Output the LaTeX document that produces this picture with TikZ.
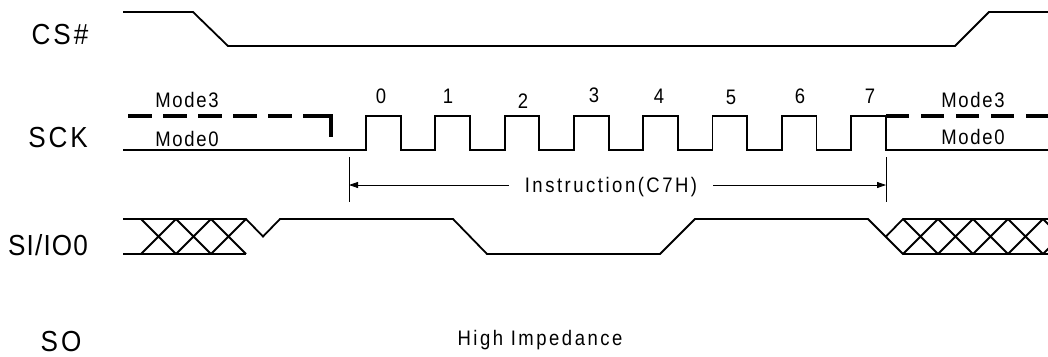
\documentclass[tikz,border=0pt]{standalone}
\usepackage{fontspec}
\setmainfont{Liberation Sans}
\newfontfamily\pinfont[LetterSpace=10, FakeStretch=0.9]{Liberation Sans}
\newfontfamily\pinnarrow[LetterSpace=4, FakeStretch=0.9]{Liberation Sans}
\newfontfamily\lblfont[LetterSpace=8, FakeStretch=0.88]{Liberation Sans}
\newfontfamily\lblwide[LetterSpace=12, FakeStretch=0.88]{Liberation Sans}
\usetikzlibrary{arrows.meta}

\begin{document}
\begin{tikzpicture}[x=1pt, y=-1pt, >={Triangle[length=9pt, width=6pt]},
	sig/.style={line width=1.8pt, line join=miter},
	modeln/.style={line width=3.4pt, dash pattern=on 24pt off 11pt},
	dimln/.style={line width=0.8pt},
	pin/.style={font=\pinfont\fontsize{29}{31}\selectfont, inner sep=0pt, text height=21pt, text depth=0pt},
	lbl/.style={font=\lblfont\fontsize{21}{23}\selectfont, inner sep=0pt, text height=15pt, text depth=0pt},
	wide/.style={font=\lblwide\fontsize{21}{23}\selectfont}]
	% pixel grid, y runs down
	\clip (0,0) rectangle (1048,356);

	% CS#
	\node[pin] (cs) at (60,34) {CS\#};
	\draw[sig] (123,12) -- (193,12) -- (228,46) -- (955,46) -- (989,12) -- (1048,12);

	% SCK
	\node[pin] (sck) at (58,137) {SCK};
	\draw[sig] (123,150) \foreach \k in {0,...,7} {
			-- ({366+69.3*\k},150) -- ++(0,-34) -- ++(34.7,0) -- ++(0,34)
		} -- (1048,150);
	\draw[modeln] (128,116) -- (293,116);
	\draw[modeln, solid] (303,116) -- (331,116) -- (331,137);
	\draw[modeln, dash pattern=on 23pt off 12pt] (886,116) -- (1048,116);

	\node[lbl] (mode3l) at (187,100) {Mode3};
	\node[lbl] (mode0l) at (187,139) {Mode0};
	\node[lbl] (mode3r) at (973,100) {Mode3};
	\node[lbl] (mode0r) at (973,137) {Mode0};

	\foreach \n/\x/\y in {0/381/96, 1/448/96, 2/523/101, 3/594/95,
			4/659/96, 5/731/97, 6/800/96, 7/870/96}
		\node[lbl] (bit\n) at (\x,\y) {\n};

	% instruction span
	\coordinate (tickL) at (349,157);
	\coordinate (tickR) at (886,157);
	\draw[dimln] (tickL) -- ++(0,45);
	\draw[dimln] (tickR) -- ++(0,45);
	\node[lbl, wide, inner xsep=16pt] (instr) at (611,185) {Instruction(C7H)};
	\draw[dimln, ->] (instr.west) -- (instr.west -| tickL);
	\draw[dimln, ->] (instr.east) -- (instr.east -| tickR);

	% SI/IO0
	\node[pin, font=\pinnarrow\fontsize{29}{31}\selectfont] (si) at (48,245) {SI/IO0};
	\draw[sig] (123,219) -- (246,219) -- (263,236.5) -- (280,219) -- (453,219)
		-- (487,254) -- (660,254) -- (695,219) -- (868,219) -- (903,254) -- (1048,254);
	\draw[sig] (123,254) -- (246,254);
	\draw[sig] (886,236.5) -- (903,219) -- (1048,219);
	\foreach \k in {0,1,2}
		\draw[sig] ({141+35*\k},219) -- ++(35,35) ({141+35*\k},254) -- ++(35,-35);
	\foreach \k in {0,...,4}
		\draw[sig] ({903+35*\k},219) -- ++(35,35) ({903+35*\k},254) -- ++(35,-35);

	% SO
	\node[pin] (so) at (61,341) {SO};
	\node[lbl, wide] (hiz) at (540,338) {High Impedance};
\end{tikzpicture}
\end{document}
